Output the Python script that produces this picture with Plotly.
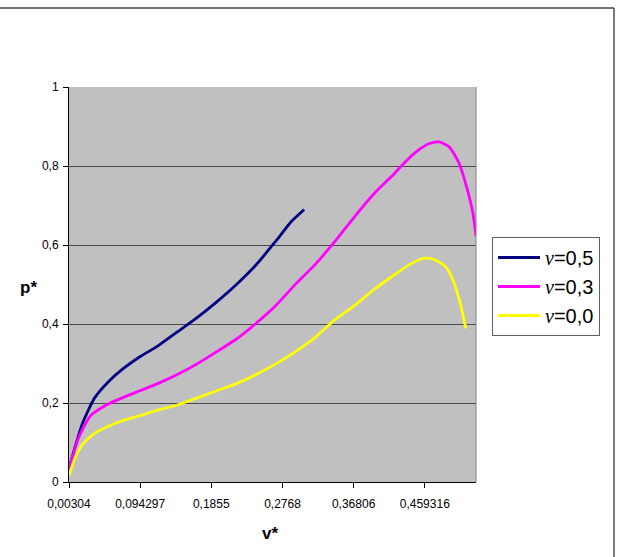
import plotly.graph_objects as go

# --- data ---
v_05 = [0.00304, 0.0106, 0.0207, 0.0359, 0.0536, 0.0713, 0.0940, 0.1167, 0.1420,
        0.1673, 0.1925, 0.2178, 0.2431, 0.2683, 0.2885, 0.3047]
p_05 = [0.033, 0.087, 0.150, 0.213, 0.254, 0.285, 0.317, 0.344, 0.380,
        0.416, 0.456, 0.500, 0.550, 0.610, 0.660, 0.690]

v_03 = [0.00304, 0.0157, 0.0308, 0.0510, 0.0713, 0.0940, 0.1167, 0.1420, 0.1673,
        0.1925, 0.2178, 0.2431, 0.2683, 0.2936, 0.3189, 0.3441, 0.3694, 0.3947,
        0.4199, 0.4351, 0.4502, 0.4654, 0.4780, 0.4907, 0.5033, 0.5134, 0.5210, 0.5250]
p_03 = [0.033, 0.114, 0.168, 0.195, 0.213, 0.231, 0.249, 0.272, 0.299,
        0.330, 0.362, 0.402, 0.447, 0.501, 0.551, 0.609, 0.672, 0.731,
        0.780, 0.812, 0.839, 0.857, 0.861, 0.848, 0.807, 0.744, 0.681, 0.623]

v_00 = [0.00304, 0.0106, 0.0207, 0.0359, 0.0536, 0.0713, 0.0940, 0.1167, 0.1420,
        0.1673, 0.1925, 0.2178, 0.2431, 0.2683, 0.2936, 0.3189, 0.3441, 0.3694,
        0.3947, 0.4199, 0.4401, 0.4578, 0.4704, 0.4856, 0.4957, 0.5048, 0.5119]
p_00 = [0.015, 0.060, 0.096, 0.123, 0.141, 0.155, 0.168, 0.182, 0.195,
        0.213, 0.231, 0.249, 0.272, 0.299, 0.330, 0.366, 0.411, 0.447,
        0.488, 0.524, 0.551, 0.566, 0.564, 0.546, 0.510, 0.452, 0.389]

x_tickvals = [0.00304, 0.094297, 0.1855, 0.2768, 0.36806, 0.459316]
x_ticktext = ["0,00304", "0,094297", "0,1855", "0,2768", "0,36806", "0,459316"]
y_tickvals = [0, 0.2, 0.4, 0.6, 0.8, 1]
y_ticktext = ["0", "0,2", "0,4", "0,6", "0,8", "1"]

nu = '<span style="font-family:Liberation Serif, Times New Roman, serif"><i>ν</i></span>'
names = [nu + "=0,5", nu + "=0,3", nu + "=0,0"]

fig = go.Figure()
fig.add_trace(go.Scatter(x=v_05, y=p_05, mode="lines", name=names[0],
                         line=dict(color="#000080", width=2.8, shape="spline", smoothing=0.6)))
fig.add_trace(go.Scatter(x=v_03, y=p_03, mode="lines", name=names[1],
                         line=dict(color="#FF00FF", width=2.8, shape="spline", smoothing=0.6)))
fig.add_trace(go.Scatter(x=v_00, y=p_00, mode="lines", name=names[2],
                         line=dict(color="#FFFF00", width=2.8, shape="spline", smoothing=0.6)))

W, H = 617, 557
L, R, T, B = 69, 476, 87, 482
fig.update_layout(
    width=W, height=H,
    margin=dict(l=L, r=W - R, t=T, b=H - B),
    paper_bgcolor="white", plot_bgcolor="#C0C0C0",
    font=dict(family="Liberation Sans, Arial, sans-serif", color="black", size=12),
    showlegend=True,
    legend=dict(x=(492 - L) / (R - L), y=(B - 237) / (B - T), xanchor="left", yanchor="top",
                bgcolor="white", bordercolor="#606060", borderwidth=1, itemwidth=42,
                font=dict(size=20, family="Liberation Sans, Arial, sans-serif")),
    xaxis=dict(range=[0.00304, 0.525], tickvals=x_tickvals, ticktext=x_ticktext,
               showgrid=False, zeroline=False, showline=True, linecolor="black", linewidth=1,
               ticks="outside", ticklen=5, tickcolor="black", ticklabelstandoff=6,
               tickfont=dict(size=12)),
    yaxis=dict(range=[0, 1], tickvals=y_tickvals, ticktext=y_ticktext,
               showgrid=True, gridcolor="#484848", gridwidth=1, zeroline=False,
               showline=True, linecolor="black", linewidth=1,
               ticks="outside", ticklen=5, tickcolor="black", ticklabelstandoff=2,
               tickfont=dict(size=12)),
)

# plot-area border (right) in gray
fig.add_shape(type="line", xref="paper", yref="paper", x0=1, x1=1, y0=0, y1=1,
              line=dict(color="#808080", width=1))
# outer chart border (top & right)
px = lambda X: (X - L) / (R - L)
py = lambda Y: (B - Y) / (B - T)
fig.add_shape(type="line", xref="paper", yref="paper", x0=px(-5), x1=px(614), y0=py(8), y1=py(8),
              line=dict(color="#404040", width=1.5))
fig.add_shape(type="line", xref="paper", yref="paper", x0=px(614), x1=px(614), y0=py(8), y1=py(560),
              line=dict(color="#505050", width=1.5))

fig.add_annotation(text="<b>v*</b>", xref="paper", yref="paper", x=px(270), y=py(533),
                   showarrow=False, font=dict(size=17), xanchor="center", yanchor="middle")
fig.add_annotation(text="<b>p*</b>", xref="paper", yref="paper", x=px(28), y=py(287),
                   showarrow=False, font=dict(size=17), xanchor="center", yanchor="middle")

fig.write_html("out.html")
